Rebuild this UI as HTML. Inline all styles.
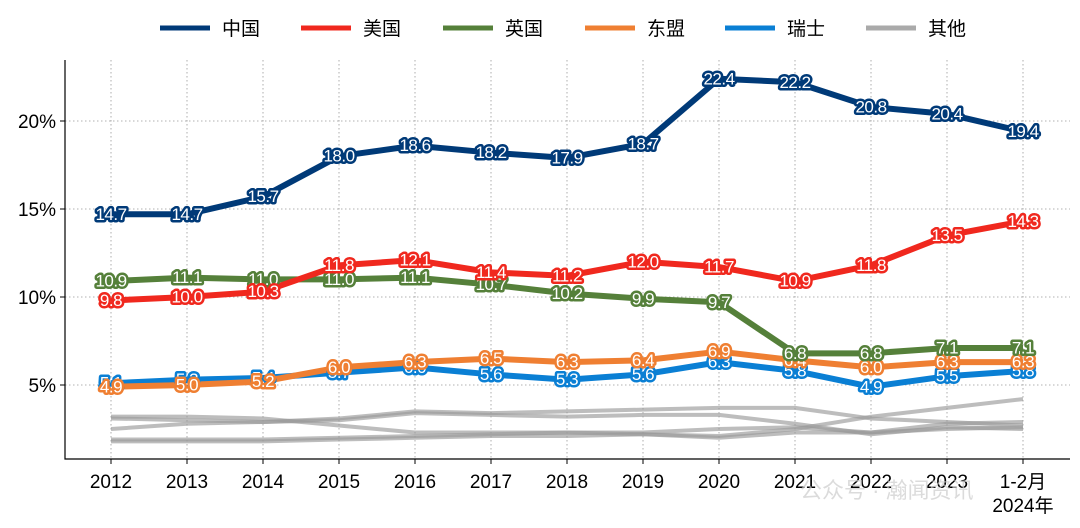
<!DOCTYPE html>
<html><head><meta charset="utf-8"><style>
body{margin:0;background:#fff;}
svg{display:block;font-family:"Liberation Sans","Noto Sans CJK SC",sans-serif;}
.vl{fill:#fff;stroke-width:5;paint-order:stroke;stroke-linejoin:round;font-size:17px;text-anchor:middle;dominant-baseline:central;letter-spacing:-0.5px}
</style></head><body>
<svg id="chart" width="1080" height="528"></svg>
<script>
const categories=["2012","2013","2014","2015","2016","2017","2018","2019","2020","2021","2022","2023","1-2月"];
const china=[14.7,14.7,15.7,18.0,18.6,18.2,17.9,18.7,22.4,22.2,20.8,20.4,19.4];
const usa=[9.8,10.0,10.3,11.8,12.1,11.4,11.2,12.0,11.7,10.9,11.8,13.5,14.3];
const uk=[10.9,11.1,11.0,11.0,11.1,10.7,10.2,9.9,9.7,6.8,6.8,7.1,7.1];
const asean=[4.9,5.0,5.2,6.0,6.3,6.5,6.3,6.4,6.9,6.4,6.0,6.3,6.3];
const swiss=[5.1,5.3,5.4,5.7,6.0,5.6,5.3,5.6,6.3,5.8,4.9,5.5,5.8];
const other1=[3.2,3.2,3.1,2.7,2.3,2.3,2.3,2.2,2.1,2.5,3.2,3.7,4.2];
const other2=[2.5,2.8,2.9,3.1,3.5,3.4,3.5,3.6,3.7,3.7,3.1,2.9,2.7];
const other3=[3.1,3.0,2.9,3.0,3.4,3.3,3.2,3.3,3.3,2.8,2.2,2.6,2.5];
const other4=[1.9,1.9,1.9,2.0,2.1,2.2,2.3,2.3,2.5,2.6,2.3,2.8,2.9];
const other5=[1.8,1.8,1.8,1.9,2.0,2.1,2.1,2.2,2.0,2.3,2.3,2.5,2.6];
const yTicks=[5,10,15,20];
const legendNames=["中国","美国","英国","东盟","瑞士","其他"];

const NS="http://www.w3.org/2000/svg";
const svg=document.getElementById('chart');
const X0=111,DX=76,L=65,R=1070,T=60,B=459;
const x=i=>X0+i*DX;
const y=v=>385-(v-5)*17.6;
function mk(tag,attrs,parent){const e=document.createElementNS(NS,tag);for(const k in attrs)e.setAttribute(k,attrs[k]);(parent||svg).appendChild(e);return e;}

yTicks.forEach(t=>{
  const g=mk('line',{x1:L,x2:R,y1:y(t),y2:y(t),stroke:'#999','stroke-dasharray':'1.5,2.5','stroke-width':0.8});
  
  
  mk('line',{x1:L-5,x2:L,y1:y(t),y2:y(t),stroke:'#000'});
  const tx=mk('text',{x:L-9,y:y(t)+7,'text-anchor':'end','font-size':19,fill:'#000'});
  tx.textContent=t+'%';
  
  
});
categories.forEach((c,i)=>{
  const g=mk('line',{x1:x(i),x2:x(i),y1:T,y2:B,stroke:'#999','stroke-dasharray':'1.5,2.5','stroke-width':0.8});
  
  
  mk('line',{x1:x(i),x2:x(i),y1:B,y2:B+5,stroke:'#000'});
  const tx=mk('text',{x:x(i),y:488,'text-anchor':'middle','font-size':19,fill:'#000'});
  tx.textContent=c;
  
  
});
const t2=mk('text',{x:x(12),y:512,'text-anchor':'middle','font-size':19,fill:'#000'});
t2.textContent='2024年';


const ax=mk('path',{d:`M${L} ${T} V${B} H${R}`,fill:'none',stroke:'#000','stroke-width':1.2});



function line(vals,color,w,name,op){
  const p=mk('polyline',{points:vals.map((v,i)=>x(i)+','+y(v)).join(' '),fill:'none',stroke:color,'stroke-width':w,'stroke-linejoin':'round','stroke-opacity':op||1});
  
  
}
[other1,other2,other3,other4,other5].forEach((s,k)=>line(s,'#999',4,'other-line-'+(k+1),0.65));
const series=[[swiss,'#0a7fd4','swiss'],[asean,'#ef7f32','asean'],[uk,'#55803a','uk'],[usa,'#f0281e','usa'],[china,'#003a78','china']];
series.forEach(s=>line(s[0],s[1],6,s[2]+'-line'));
series.forEach(s=>{
  s[0].forEach((v,i)=>{
    const t=mk('text',{x:x(i),y:y(v),class:'vl',stroke:s[1]});
    t.textContent=v.toFixed(1);
    
    
  });
});

const lc=['#003a78','#f0281e','#55803a','#ef7f32','#0a7fd4','#aaa'];
const lx=[160,301,443,585,725,866];
legendNames.forEach((n,i)=>{
  const g=mk('g',{});
  
  
  mk('line',{x1:lx[i],x2:lx[i]+50,y1:28,y2:28,stroke:lc[i],'stroke-width':5},g);
  const t=mk('text',{x:lx[i]+62,y:35,'font-size':19,fill:'#000'},g);
  t.textContent=n;
});
const wm=mk('text',{x:800,y:498,'font-size':22,fill:'#ccc','fill-opacity':0.7});
wm.textContent='公众号 · 瀚闻资讯';


</script>
</body></html>
